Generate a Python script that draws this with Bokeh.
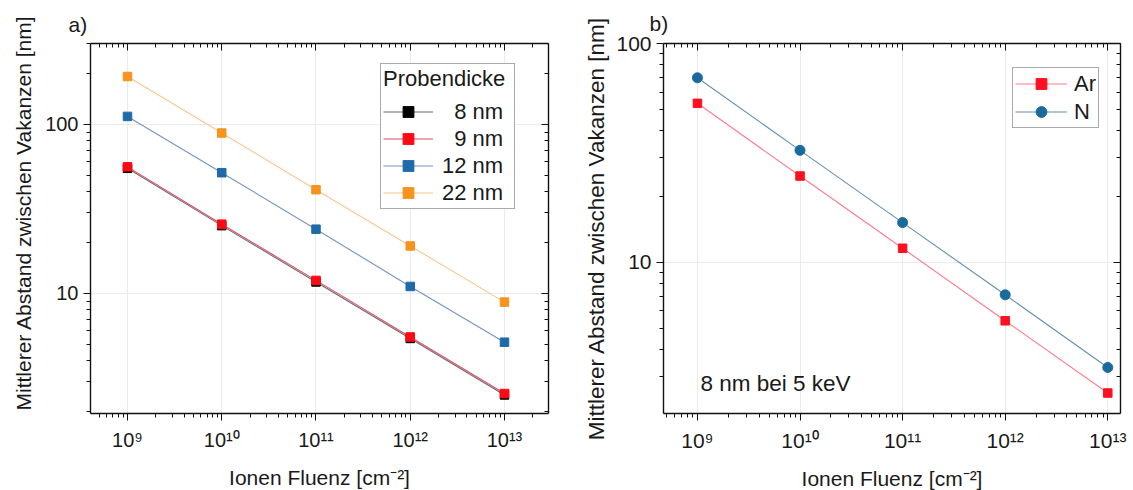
from bokeh.plotting import figure
from bokeh.layouts import row
from bokeh.models import (LogAxis, FixedTicker, CustomJSTickFormatter, Legend,
                          LegendItem, Label, Range1d, ColumnDataSource, Title)
from bokeh.embed import file_html
from bokeh.resources import INLINE

# ---------------- data ----------------
fluence = [1e9, 1e10, 1e11, 1e12, 1e13]
d_8nm = [55.0, 25.2, 11.7, 5.42, 2.51]
d_9nm = [56.1, 25.7, 11.95, 5.53, 2.56]
d_12nm = [111.5, 51.8, 24.0, 11.0, 5.15]
d_22nm = [192.0, 88.9, 41.1, 19.1, 8.89]
d_ar = [53.3, 24.8, 11.6, 5.41, 2.53]
d_n = [69.7, 32.5, 15.2, 7.11, 3.31]
thickness_labels = ["\u20078 nm", "\u20079 nm", "12 nm", "22 nm"]
ion_labels = ["Ar", "N"]
x_tick_labels = ["10\u2079", "10\u00b9\u2070", "10\u00b9\u00b9", "10\u00b9\u00b2", "10\u00b9\u00b3"]
y_ticks = [10, 100]
y_tick_labels = ["10", "100"]
x_label = "Ionen Fluenz [cm\u207b\u00b2]"
y_label = "Mittlerer Abstand zwischen Vakanzen [nm]"

FONT = "Liberation Sans"
TXT = "#1a1a1a"

x_minor = [m * 10.0 ** e for e in range(8, 14) for m in range(2, 10)]
y_minor = [m * 10.0 ** e for e in range(0, 3) for m in range(2, 10)]

fmt_code = """
const i = tvals.findIndex(t => Math.abs(Math.log10(t) - Math.log10(tick)) < 1e-6);
return i >= 0 ? labs[i] : '';
"""


def make_fig(xr, yr, bl, fw, br, title, title_off, title_standoff, tick_size):
    p = figure(x_axis_type="log", y_axis_type="log",
               x_range=Range1d(*xr), y_range=Range1d(*yr),
               frame_width=fw, frame_height=370,
               min_border_left=bl, min_border_right=br,
               min_border_top=43, min_border_bottom=77,
               toolbar_location=None, output_backend="svg",
               background_fill_color="white", border_fill_color="white")
    p.title = Title(text=title, align="left", offset=title_off,
                    text_font=FONT, text_font_size="21px",
                    text_font_style="normal", text_color=TXT,
                    standoff=title_standoff)
    xt = FixedTicker(ticks=fluence, minor_ticks=x_minor)
    yt = FixedTicker(ticks=y_ticks, minor_ticks=y_minor)
    xf = CustomJSTickFormatter(args=dict(labs=x_tick_labels, tvals=fluence), code=fmt_code)
    yf = CustomJSTickFormatter(args=dict(labs=y_tick_labels, tvals=y_ticks), code=fmt_code)
    for ax, t, f in ((p.xaxis[0], xt, xf), (p.yaxis[0], yt, yf)):
        ax.ticker = t
        ax.formatter = f
        ax.major_tick_out = 7
        ax.major_tick_in = 0
        ax.minor_tick_out = 4
        ax.minor_tick_in = 0
        ax.axis_line_width = 1.4
        ax.axis_line_color = "#111111"
        ax.major_tick_line_color = "#111111"
        ax.minor_tick_line_color = "#111111"
        ax.major_label_text_font = FONT
        ax.major_label_text_font_size = tick_size
        ax.major_label_text_color = TXT
        ax.axis_label_text_font = FONT
        ax.axis_label_text_font_size = "21px"
        ax.axis_label_text_font_style = "normal"
        ax.axis_label_text_color = TXT
    p.xaxis[0].axis_label = x_label
    p.xaxis[0].major_label_standoff = 8
    p.xaxis[0].axis_label_standoff = 12
    p.yaxis[0].major_label_standoff = 5
    # mirrored axes (ticks only)
    for loc, t in (("above", xt), ("right", yt)):
        ax = LogAxis(ticker=t, major_label_text_font_size="1px",
                     major_label_text_alpha=0,
                     major_tick_in=7, major_tick_out=0,
                     minor_tick_in=4, minor_tick_out=0,
                     axis_line_width=1.4, axis_line_color="#111111",
                     major_tick_line_color="#111111", minor_tick_line_color="#111111",
                     major_label_standoff=0)
        p.add_layout(ax, loc)
    p.xgrid.ticker = xt
    p.ygrid.ticker = yt
    p.xgrid.grid_line_color = "#ebebeb"
    p.ygrid.grid_line_color = "#ebebeb"
    p.outline_line_color = None
    return p


# ---------------- panel a ----------------
p1 = make_fig((4.05e8, 2.93e13), (1.95, 301), 90, 458, 27, "a)", -22, 15, "20px")
# y label of panel a sits slightly above the frame centre: anchored from the bottom
p1.add_layout(Title(text=y_label, align="left", offset=3, text_font=FONT,
                    text_font_size="21px", text_font_style="normal",
                    text_color=TXT, standoff=16), "left")
series = [
    (d_8nm, "#000000", "#6b6b6b"),
    (d_9nm, "#ff0a14", "#e04a64"),
    (d_12nm, "#1f6aa8", "#7396ba"),
    (d_22nm, "#f7931e", "#f6c690"),
]
items = []
for (vals, mc, lc), lab in zip(series, thickness_labels):
    src = ColumnDataSource(dict(x=fluence, y=vals))
    l = p1.line("x", "y", source=src, line_color=lc, line_width=1.1)
    s = p1.scatter("x", "y", source=src, marker="square", size=8.5,
                   fill_color=mc, line_color=mc)
    items.append(LegendItem(label=lab, renderers=[l, s]))
leg1 = Legend(items=items, location=(290, 204), title="Probendicke",
              title_text_font=FONT, title_text_font_size="22px",
              title_text_font_style="normal", title_text_color=TXT,
              title_standoff=6,
              label_text_font=FONT, label_text_font_size="22px", label_text_color=TXT,
              glyph_width=50, glyph_height=27, label_height=27, label_width=70,
              label_standoff=9, spacing=0, padding=2, margin=0,
              border_line_color="#555555", border_line_width=1.2,
              background_fill_color="white", background_fill_alpha=1)
p1.add_layout(leg1, "center")

# ---------------- panel b ----------------
p2 = make_fig((4.67e8, 1.33e13), (2.04, 100), 88, 457, 13, "b)", -14, 17, "21px")
p2.yaxis[0].axis_label = y_label
p2.yaxis[0].axis_label_text_font_size = "22.5px"
p2.yaxis[0].axis_label_standoff = 4
ion_series = [
    (d_ar, "square", 8.5, "#ff1020", "#ff7b8c"),
    (d_n, "circle", 10, "#1a6b9c", "#6490b0"),
]
items2 = []
for (vals, mk, sz, mc, lc), lab in zip(ion_series, ion_labels):
    src = ColumnDataSource(dict(x=fluence, y=vals))
    l = p2.line("x", "y", source=src, line_color=lc, line_width=1.1)
    s = p2.scatter("x", "y", source=src, marker=mk, size=sz,
                   fill_color=mc, line_color=mc)
    items2.append(LegendItem(label=lab, renderers=[l, s]))
leg2 = Legend(items=items2, location=(349, 285),
              label_text_font=FONT, label_text_font_size="22px", label_text_color=TXT,
              glyph_width=52, glyph_height=27, label_height=27, label_standoff=7,
              spacing=1, padding=2, margin=0,
              border_line_color="#555555", border_line_width=1.2,
              background_fill_color="white", background_fill_alpha=1)
p2.add_layout(leg2, "center")
p2.add_layout(Label(x=37, y=30, x_units="screen", y_units="screen",
                    text="8 nm bei 5 keV", text_font=FONT, text_font_size="22.5px",
                    text_color=TXT, text_baseline="alphabetic"))

layout = row(p1, p2, spacing=0)
open("out.html", "w").write(file_html(layout, INLINE))
